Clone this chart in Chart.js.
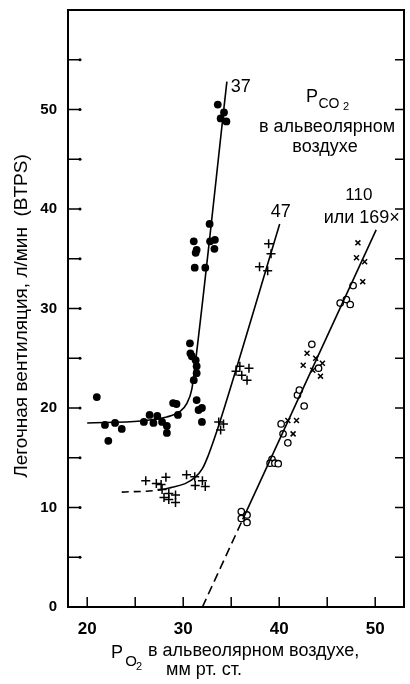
<!DOCTYPE html>
<html>
<head>
<meta charset="utf-8">
<script src="https://cdn.jsdelivr.net/npm/chart.js@4.4.0/dist/chart.umd.min.js"></script>
<style>
  html, body { margin: 0; padding: 0; background: #fff; }
  #wrap { width: 410px; height: 684px; }
</style>
</head>
<body>
<div id="wrap"><canvas id="chart" width="410" height="684"></canvas></div>
<script>
// P_CO2 = 37 (filled dots)
const dots37 = [
  [33.6, 50.5], [34.25, 49.7], [33.9, 49.1], [34.5, 48.8],
  [32.75, 38.5], [31.1, 36.75], [32.8, 36.75], [33.3, 36.9], [31.4, 35.9], [33.25, 36.0],
  [31.3, 35.6], [31.2, 34.1], [32.3, 34.1],
  [30.7, 26.5], [30.75, 25.5], [30.9, 25.2], [31.3, 24.8], [31.4, 24.2], [31.4, 23.5], [31.1, 22.8],
  [21.0, 21.1],
  [31.4, 20.8], [28.95, 20.5], [29.3, 20.4], [31.6, 19.8], [31.95, 20.0], [31.95, 18.6],
  [21.85, 18.3], [22.9, 18.5], [23.6, 17.9], [22.2, 16.7],
  [25.9, 18.6], [26.5, 19.3], [27.3, 19.2], [26.9, 18.5], [27.8, 18.6], [28.3, 18.2], [28.3, 17.5],
  [29.45, 19.3]
];

// P_CO2 = 47 (plus signs)
const plus47 = [
  [38.9, 36.5], [39.15, 35.5], [37.95, 34.2], [38.8, 33.8],
  [35.9, 24.2], [36.85, 24.0], [35.5, 23.7], [36.1, 23.3], [36.65, 22.8],
  [33.7, 18.6], [34.2, 18.4], [33.9, 17.8],
  [26.1, 12.7], [27.2, 12.4], [28.2, 13.05], [27.7, 12.3], [27.8, 11.8], [28.5, 11.4],
  [28.0, 11.0], [29.2, 11.25], [28.5, 10.8], [29.2, 10.5],
  [30.35, 13.3], [31.2, 13.1], [32.0, 12.7], [31.25, 12.2], [32.3, 12.1]
];

// P_CO2 = 110 (open circles)
const circles110 = [
  [36.05, 9.6], [36.65, 9.25], [36.05, 8.9], [36.65, 8.5],
  [39.25, 14.85], [39.05, 14.45], [39.55, 14.45], [39.9, 14.4],
  [40.2, 18.4], [40.4, 17.4], [40.9, 16.5], [42.6, 20.2],
  [41.9, 21.3], [42.1, 21.8],
  [43.4, 26.4], [44.1, 24.0],
  [46.35, 30.55], [47.0, 30.9], [47.4, 30.4], [47.7, 32.3]
];

// P_CO2 = 169 (crosses)
const crosses169 = [
  [48.2, 36.6], [48.05, 35.1], [48.9, 34.7], [48.7, 32.7],
  [42.9, 25.5], [42.5, 24.3], [43.8, 25.0], [44.5, 24.5], [43.5, 23.8], [44.3, 23.2],
  [40.9, 18.75], [41.8, 18.75], [41.45, 17.4]
];

// drawn response curves
const curve37 = [
  [20.0, 18.5], [25.6, 18.7], [28.3, 19.1], [29.6, 19.6], [30.4, 20.5],
  [30.9, 21.9], [31.2, 24.0], [34.55, 52.8]
];
const curve47 = [
  [23.6, 11.55], [27.5, 11.75], [28.7, 12.0], [30.2, 12.4], [31.2, 13.0],
  [32.0, 13.9], [32.6, 15.2], [33.2, 16.8], [34.0, 19.15], [40.05, 38.5]
];
const line110 = [[32.0, 0], [36.2, 8.8], [50.1, 37.9]];

const xTicks = [20, 25, 30, 35, 40, 45, 50];
const yTicks = [0, 5, 10, 15, 20, 25, 30, 35, 40, 45, 50, 55];

const FONT = '"Liberation Sans", Arial, sans-serif';
const toXY = arr => arr.map(p => ({ x: p[0], y: p[1] }));

// frame, inward ticks and all free text
const paperPlugin = {
  id: 'paper',
  afterDraw(chart) {
    const { ctx, chartArea: a, scales: { x, y } } = chart;
    ctx.save();
    ctx.strokeStyle = '#000';
    ctx.fillStyle = '#000';
    ctx.lineWidth = 2;
    ctx.strokeRect(a.left, a.top, a.right - a.left, a.bottom - a.top);

    ctx.lineWidth = 1.5;
    yTicks.forEach(v => {
      if (v === 0) return;
      const py = y.getPixelForValue(v);
      ctx.beginPath();
      ctx.moveTo(a.left, py); ctx.lineTo(a.left + 12, py);
      ctx.moveTo(a.right, py); ctx.lineTo(a.right - 9, py);
      ctx.stroke();
      ctx.beginPath();
      ctx.arc(a.left + 12, py, 1.5, 0, Math.PI * 2);
      ctx.fill();
    });
    xTicks.forEach(v => {
      const px = x.getPixelForValue(v);
      ctx.beginPath();
      ctx.moveTo(px, a.bottom); ctx.lineTo(px, a.bottom - 10);
      ctx.stroke();
    });

    const txt = (s, px, py, size, align) => {
      ctx.font = size + 'px ' + FONT;
      ctx.textAlign = align || 'center';
      ctx.textBaseline = 'middle';
      ctx.fillText(s, px, py);
    };
    const at = (vx, vy) => [x.getPixelForValue(vx), y.getPixelForValue(vy)];

    // curve labels
    let p = at(36.0, 52.3); txt('37', p[0], p[1], 18);
    p = at(40.15, 39.7); txt('47', p[0], p[1], 18);
    p = at(48.3, 41.4); txt('110', p[0], p[1], 17);
    p = at(48.6, 39.1); txt('или 169×', p[0], p[1], 18);

    // P_CO2 legend text
    txt('P', 312, 97, 18);
    txt('CO', 329, 104, 14);
    txt('2', 346, 107, 11);
    txt('в альвеолярном', 327, 127, 18);
    txt('воздухе', 325, 147, 18);

    // x title
    txt('P', 117, 653, 18);
    txt('O', 131, 662, 15);
    txt('2', 139, 667, 11);
    txt('в альвеолярном воздухе,', 148, 651, 18, 'left');
    txt('мм рт. ст.', 204, 670, 18);

    // y title
    ctx.translate(22, 316);
    ctx.rotate(-Math.PI / 2);
    txt('Легочная вентиляция, л/мин  (BTPS)', 0, 0, 19);
    ctx.restore();
  }
};

new Chart(document.getElementById('chart'), {
  type: 'scatter',
  data: {
    datasets: [
      {
        type: 'line', data: toXY(curve37), borderColor: '#000', borderWidth: 1.6,
        pointRadius: 0, cubicInterpolationMode: 'monotone', fill: false
      },
      {
        type: 'line', data: toXY(curve47), borderColor: '#000', borderWidth: 1.6,
        pointRadius: 0, cubicInterpolationMode: 'monotone', fill: false,
        segment: { borderDash: c => c.p0DataIndex < 1 ? [7, 5] : undefined }
      },
      {
        type: 'line', data: toXY(line110), borderColor: '#000', borderWidth: 1.6,
        pointRadius: 0, fill: false,
        segment: { borderDash: c => c.p0DataIndex < 1 ? [9, 5] : undefined }
      },
      {
        data: toXY(dots37), pointStyle: 'circle', pointRadius: 3.9,
        backgroundColor: '#000', borderColor: '#000', borderWidth: 0
      },
      {
        data: toXY(plus47), pointStyle: 'cross', pointRadius: 4.5,
        borderColor: '#000', borderWidth: 1.5
      },
      {
        data: toXY(circles110), pointStyle: 'circle', pointRadius: 3.2,
        backgroundColor: '#fff', borderColor: '#000', borderWidth: 1.3
      },
      {
        data: toXY(crosses169), pointStyle: 'crossRot', pointRadius: 3.5,
        borderColor: '#000', borderWidth: 1.5
      }
    ]
  },
  options: {
    responsive: false,
    animation: false,
    devicePixelRatio: 1,
    layout: { padding: { top: 10, right: 3, left: 0, bottom: 0 } },
    plugins: { legend: { display: false }, tooltip: { enabled: false } },
    scales: {
      x: {
        type: 'linear', min: 18, max: 53,
        grid: { display: false, drawTicks: false },
        border: { display: false },
        afterBuildTicks: s => { s.ticks = xTicks.map(v => ({ value: v })); },
        afterFit: s => { s.height = 77; s.paddingLeft = 0; s.paddingRight = 0; },
        ticks: {
          padding: 12, color: '#000',
          font: { family: FONT, size: 17, weight: 'bold' },
          callback: v => (v % 10 === 0 ? String(v) : '')
        }
      },
      y: {
        type: 'linear', min: 0, max: 60,
        grid: { display: false, drawTicks: false },
        border: { display: false },
        afterBuildTicks: s => { s.ticks = yTicks.map(v => ({ value: v })); },
        afterFit: s => { s.width = 68; s.paddingTop = 0; s.paddingBottom = 0; },
        ticks: {
          padding: 11, color: '#000',
          font: { family: FONT, size: 15, weight: 'bold' },
          callback: v => (v % 10 === 0 ? String(v) : '')
        }
      }
    }
  },
  plugins: [paperPlugin]
});
</script>
</body>
</html>
